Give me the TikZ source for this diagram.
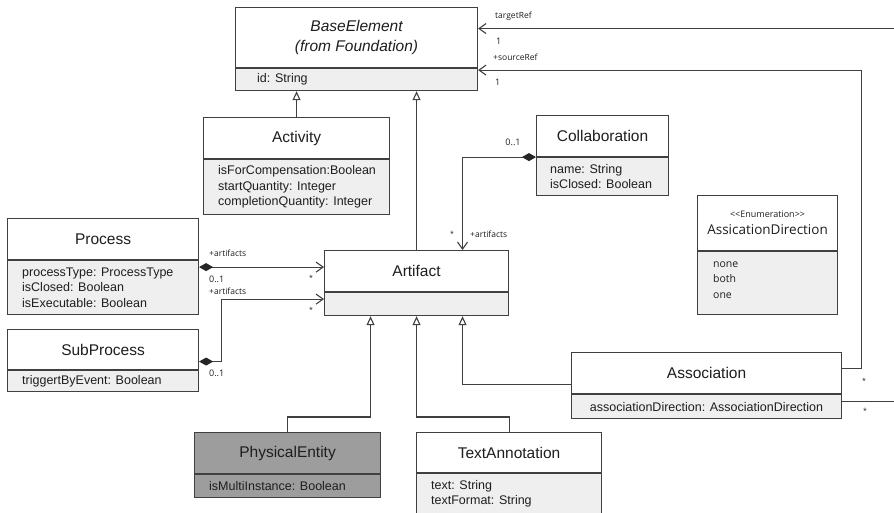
\documentclass[tikz,border=0pt]{standalone}
\usepackage{fontspec}
\setmainfont{Liberation Sans}
\newfontfamily\notefont{Open Sans}
\usetikzlibrary{arrows.meta}
\definecolor{linegray}{HTML}{404040}
\definecolor{compgray}{HTML}{EFEFEF}
\definecolor{shadegray}{HTML}{9D9D9D}
\definecolor{inkgray}{HTML}{1E1E1E}

\begin{document}
\begin{tikzpicture}[x=1pt,y=-1pt,
  every node/.style={inner sep=0pt, text=inkgray},
  head/.style={draw=linegray, line width=1.1pt, fill=white, anchor=north west, align=center,
    font=\fontsize{15.5}{19}\selectfont},
  compbox/.style={draw=linegray, line width=1.1pt, fill=compgray, anchor=north west},
  attrtext/.style={anchor=west, align=left, font=\fontsize{12.5}{15.5}\selectfont},
  roletext/.style={font=\notefont\fontsize{8.5}{10}\selectfont},
  multtext/.style={font=\notefont\fontsize{9}{10}\selectfont},
  startext/.style={font=\notefont\fontsize{7}{8}\selectfont},
  generalize/.style={draw=linegray, line width=1.1pt, -{Triangle[open, length=9pt, width=8pt]}},
  navigable/.style={draw=linegray, line width=1.1pt, -{Straight Barb[length=7pt, width=10pt]}},
  composite/.style={draw=linegray, line width=1.1pt,
    {Diamond[length=14pt, width=8pt, fill=black!85, color=black!85]}-{Straight Barb[length=7pt, width=10pt]}},
]
\clip (0,0) rectangle (894,513);

% ---------- classes ----------
% BaseElement
\node[head, minimum width=242pt, minimum height=60pt,
      font=\fontsize{15.5}{20}\selectfont\itshape] (base) at (235,7) {BaseElement\\(from Foundation)};
\node[compbox, minimum width=242pt, minimum height=22pt] (baseA) at (base.south west) {};
\node[attrtext] (baseT) at ([xshift=22pt]baseA.west) {id: String};

% Activity
\node[head, minimum width=186pt, minimum height=41pt] (act) at (203,117) {Activity};
\node[compbox, minimum width=186pt, minimum height=55pt] (actA) at (act.south west) {};
\node[attrtext] (actT) at ([xshift=15pt]actA.west)
  {isForCompensation:Boolean\\startQuantity: Integer\\completionQuantity: Integer};

% Collaboration
\node[head, minimum width=132pt, minimum height=41pt] (col) at (536,115) {Collaboration};
\node[compbox, minimum width=132pt, minimum height=38pt] (colA) at (col.south west) {};
\node[attrtext, font=\fontsize{12.5}{14.5}\selectfont] (colT) at ([xshift=14pt]colA.west)
  {name: String\\isClosed: Boolean};

% Process
\node[head, minimum width=191pt, minimum height=41pt] (proc) at (7,218) {Process};
\node[compbox, minimum width=191pt, minimum height=54pt] (procA) at (proc.south west) {};
\node[attrtext] (procT) at ([xshift=15pt]procA.west)
  {processType: ProcessType\\isClosed: Boolean\\isExecutable: Boolean};

% SubProcess
\node[head, minimum width=191pt, minimum height=40pt] (sub) at (7,329) {SubProcess};
\node[compbox, minimum width=191pt, minimum height=21pt] (subA) at (sub.south west) {};
\node[attrtext] (subT) at ([xshift=15pt]subA.west) {triggertByEvent: Boolean};

% Artifact
\node[head, minimum width=184pt, minimum height=41pt] (art) at (324,250) {Artifact};
\node[compbox, minimum width=184pt, minimum height=23pt] (artA) at (art.south west) {};

% AssicationDirection enumeration
\node[head, minimum width=140pt, minimum height=55pt,
      font=\notefont\fontsize{13.5}{17}\selectfont] (enum) at (697,195)
  {{\fontsize{9}{11}\selectfont\textless\textless Enumeration\textgreater\textgreater}\\[0pt]AssicationDirection};
\node[compbox, minimum width=140pt, minimum height=63pt] (enumA) at (enum.south west) {};
\node[attrtext, font=\notefont\fontsize{10.5}{15.5}\selectfont] (enumT) at ([xshift=16pt, yshift=3pt]enumA.west)
  {none\\both\\one};

% Association
\node[head, minimum width=270pt, minimum height=41pt] (asc) at (571,352) {Association};
\node[compbox, minimum width=270pt, minimum height=24pt] (ascA) at (asc.south west) {};
\node[attrtext, anchor=center] (ascT) at (ascA.center) {associationDirection: AssociationDirection};

% PhysicalEntity
\node[head, fill=shadegray, minimum width=186pt, minimum height=41pt] (phys) at (194,432) {PhysicalEntity};
\node[compbox, fill=shadegray, minimum width=186pt, minimum height=23pt] (physA) at (phys.south west) {};
\node[attrtext] (physT) at ([xshift=15pt]physA.west) {isMultiInstance: Boolean};

% TextAnnotation
\node[head, minimum width=185pt, minimum height=40pt] (txt) at (416,432) {TextAnnotation};
\node[compbox, minimum width=185pt, minimum height=40pt] (txtA) at (txt.south west) {};
\node[attrtext] (txtT) at ([xshift=15pt]txtA.west) {text: String\\textFormat: String};

% ---------- generalizations ----------
\draw[generalize] (act.north) -- (act.north |- baseA.south);
\draw[generalize] (art.north) -- (art.north |- baseA.south);
\draw[generalize] (phys.north) -- ++(0,-15) -| ([xshift=-46pt]artA.south);
\draw[generalize] (txt.north) -- ++(0,-15) -| (artA.south);
\coordinate (aIn) at ([yshift=-11.5pt]asc.west);
\draw[generalize] (aIn) -| ([xshift=46pt]artA.south);

% ---------- compositions ----------
\draw[composite] (colA.north west) -| ([xshift=46pt]art.north);
\coordinate (pOut) at ([yshift=-7pt]procA.north east);
\draw[composite] (pOut) -- (pOut -| art.west);
\coordinate (sOut) at ([yshift=-12pt]sub.east);
\coordinate (sIn) at ([yshift=-7pt]artA.north west);
\draw[composite] (sOut) -- ++(22,0) |- (sIn);

% ---------- navigable associations ----------
\coordinate (srcOut) at ([yshift=4.5pt]asc.east);
\coordinate (srcIn) at ([yshift=-2pt]baseA.north east);
\draw[navigable] (srcOut) -- ++(19,0) |- (srcIn);
\coordinate (tgtOut) at ([yshift=5pt]ascA.east);
\coordinate (tgtIn) at ([yshift=9pt]base.east);
\draw[navigable] (tgtOut) -- ++(80,0) |- (tgtIn);

% ---------- role names and multiplicities ----------
\node[roletext, anchor=west] (tgtRole) at (495,16) {targetRef};
\node[multtext, anchor=west] (tgtMult) at (496,41) {1};
\node[roletext, anchor=west] (srcRole) at (493,57) {+sourceRef};
\node[multtext, anchor=west] (srcMult) at (495,82) {1};

\node[multtext] (colMult) at (513,142) {0..1};
\node[startext] (colStar) at (452,234) {*};
\node[roletext, anchor=west] (colRole) at (470,234) {+artifacts};

\node[roletext, anchor=west] (prRole) at (209,253) {+artifacts};
\node[multtext, anchor=west] (prMult) at (209,279) {0..1};
\node[startext] (prStar) at (311,278) {*};
\node[roletext, anchor=west] (spRole) at (209,291) {+artifacts};
\node[startext] (spStar) at (311,310) {*};
\node[multtext, anchor=west] (spMult) at (209,373) {0..1};

\node[startext] (ascStar1) at (864,381) {*};
\node[startext] (ascStar2) at (865,411) {*};
\end{tikzpicture}
\end{document}
